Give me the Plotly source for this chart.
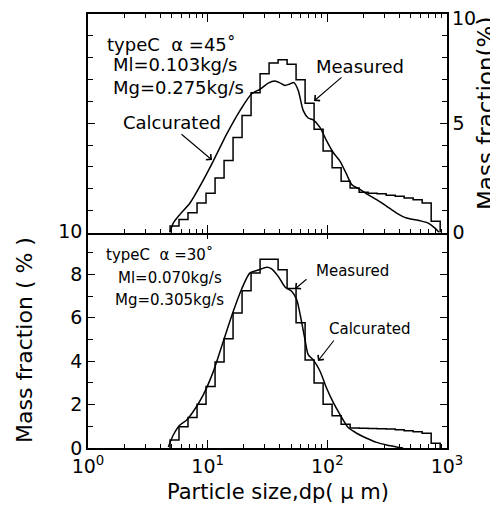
import plotly.graph_objects as go

# ---------------- data ----------------
# bin edges of the measured size distribution (micrometres)
edges_um = [4.85, 5.76, 6.85, 8.15, 9.69, 11.53, 13.71, 16.30, 19.38, 23.05, 27.41,
            32.60, 38.77, 46.1, 54.8, 65.2, 77.5, 92.2, 109.6, 130.4, 155.1, 184.4,
            219.3, 260.8, 310.1, 368.8, 438.6, 521.6, 620.2, 737.6, 877.1]

# top panel: typeC alpha=45
top_measured = [0.3, 0.6, 0.9, 1.35, 1.8, 2.5, 3.3, 4.35, 5.35, 6.4, 7.27, 7.76, 7.91,
                7.7, 6.99, 5.91, 4.73, 3.73, 2.96, 2.35, 2.04, 1.84, 1.80, 1.77, 1.71,
                1.66, 1.58, 1.50, 1.35, 0.51]
top_calc_x = [4.84, 5.16, 5.87, 7.12, 8.62, 11.14, 14.41, 18.62, 23.32, 27.35, 32.08,
              36.50, 40.18, 44.24, 48.71, 52.6, 57.14, 62.91, 69.26, 76.25, 86.76, 98.67,
              112.0, 127.4, 145.0, 159.6, 187.3, 213.0, 258.2, 312.9, 379.3, 459.7,
              593.8, 696.6, 792.3, 860.7]
top_calc_y = [0.0, 0.43, 0.83, 1.35, 2.12, 3.27, 4.5, 5.58, 6.35, 6.55, 6.84, 6.93, 6.85,
              6.73, 6.8, 6.86, 6.5, 5.58, 5.24, 5.15, 4.81, 4.19, 3.66, 3.27, 2.66, 2.2,
              1.97, 1.77, 1.5, 1.2, 0.89, 0.66, 0.54, 0.43, 0.2, 0.0]

# bottom panel: typeC alpha=30
bot_measured = [0.37, 0.98, 1.4, 2.02, 2.83, 3.96, 5.03, 6.22, 7.25, 8.07, 8.7, 8.7, 8.22,
                7.35, 5.77, 4.06, 2.99, 2.02, 1.49, 1.09, 0.92, 0.91, 0.9, 0.89, 0.87,
                0.84, 0.8, 0.75, 0.68, 0.22]
bot_calc_x = [4.69, 5.16, 5.87, 6.68, 7.58, 9.19, 11.14, 13.50, 16.37, 19.24, 22.57, 26.47,
              31.12, 34.25, 38.89, 44.24, 50.33, 55.4, 61.0, 65.0, 69.26, 76.25, 86.76,
              98.67, 112.0, 127.4, 149.5, 175.7, 213.0, 258.2, 312.9, 379.3, 430.0]
bot_calc_y = [0.05, 0.6, 1.06, 1.29, 1.68, 2.45, 3.52, 4.91, 6.3, 7.33, 8.07, 8.2, 8.33,
              8.26, 7.91, 7.42, 7.22, 6.84, 5.8, 5.0, 4.3, 4.06, 3.55, 2.75, 2.1, 1.55,
              0.94, 0.68, 0.45, 0.26, 0.14, 0.05, 0.0]

x_major = [1, 10, 100, 1000]
x_major_text = ["10<sup>0</sup>", "10<sup>1</sup>", "10<sup>2</sup>", "10<sup>3</sup>"]
x_minor = [m * d for d in (1, 10, 100) for m in range(2, 10)]
top_y_major = [0, 5, 10]
top_y_text = ["0", "5", ""]          # the top "10" is placed separately just below the corner
top_y_top_label = "10"
top_y_minor = [1, 2, 3, 4, 6, 7, 8, 9]
bot_y_major = [0, 2, 4, 6, 8, 10]
bot_y_minor = [1, 3, 5, 7, 9]

# ---------------- figure ----------------
FONT = "DejaVu Sans"
OFF = 8                      # default page margin around the plot div
W, H = 498 - OFF, 509 - OFF
ML, MR, MT, MB = 80, 51, 6, 61
PW, PH = W - ML - MR, H - MT - MB
LW = 1.5


def px(x):
    """page pixel x -> paper fraction"""
    return (x - OFF - ML) / PW


def py(y):
    """page pixel y -> paper fraction"""
    return (H - MB - (y - OFF)) / PH


def step_xy(edges, vals):
    xs = [edges[0]] + list(edges)
    ys = [0] + list(vals) + [0]
    return xs, ys


fig = go.Figure()
line = dict(color="black", width=1.5)

sx, sy = step_xy(edges_um, top_measured)
fig.add_trace(go.Scatter(x=sx, y=sy, mode="lines", line=dict(shape="hv", **line),
                         xaxis="x2", yaxis="y2", showlegend=False))
fig.add_trace(go.Scatter(x=top_calc_x, y=top_calc_y, mode="lines",
                         line=dict(shape="spline", smoothing=0.7, **line),
                         xaxis="x2", yaxis="y2", showlegend=False))
sx, sy = step_xy(edges_um, bot_measured)
fig.add_trace(go.Scatter(x=sx, y=sy, mode="lines", line=dict(shape="hv", **line),
                         xaxis="x", yaxis="y", showlegend=False))
fig.add_trace(go.Scatter(x=bot_calc_x, y=bot_calc_y, mode="lines",
                         line=dict(shape="spline", smoothing=0.7, **line),
                         xaxis="x", yaxis="y", showlegend=False))

common_x = dict(type="log", range=[0, 3], showline=True, linecolor="black", linewidth=LW,
                mirror="ticks", ticks="inside", ticklen=8, tickwidth=1.2, tickcolor="black",
                tickmode="array", tickvals=x_major, showgrid=False, zeroline=False,
                minor=dict(tickmode="array", tickvals=x_minor, ticks="inside", ticklen=4,
                           tickwidth=1.2, tickcolor="black", showgrid=False))
common_y = dict(range=[0, 10], showline=True, linecolor="black", linewidth=LW,
                mirror="ticks", ticks="inside", ticklen=7, tickwidth=1.2, tickcolor="black",
                tickmode="array", showgrid=False, zeroline=False,
                ticklabeloverflow="allow",
                tickfont=dict(family=FONT, size=19, color="black"))

split = 0.5
fig.update_layout(
    width=W, height=H,
    margin=dict(l=ML, r=MR, t=MT, b=MB, autoexpand=False),
    paper_bgcolor="white", plot_bgcolor="white",
    font=dict(family=FONT, color="black"),
    xaxis=dict(common_x, domain=[0, 1], anchor="y", ticktext=x_major_text,
               ticklabeloverflow="allow",
               tickfont=dict(family=FONT, size=19, color="black")),
    xaxis2=dict(common_x, domain=[0, 1], anchor="y2", showticklabels=False),
    yaxis=dict(common_y, domain=[0, split], anchor="x", tickvals=bot_y_major,
               minor=dict(tickmode="array", tickvals=bot_y_minor, ticks="inside",
                          ticklen=5, tickwidth=1.2, tickcolor="black", showgrid=False)),
    yaxis2=dict(common_y, domain=[split - LW / PH, 1], anchor="x2", side="right",
                tickvals=top_y_major, ticktext=top_y_text,
                minor=dict(tickmode="array", tickvals=top_y_minor, ticks="inside",
                           ticklen=5, tickwidth=1.2, tickcolor="black", showgrid=False)),
)

ann = []


def text(x, y, s, size, xanchor="left", angle=0):
    ann.append(dict(xref="paper", yref="paper", x=px(x), y=py(y), text=s, showarrow=False,
                    xanchor=xanchor, yanchor="middle", textangle=angle,
                    font=dict(family=FONT, size=size, color="black")))


def arrow(tipx, tipy, tailx, taily):
    ann.append(dict(xref="paper", yref="paper", x=px(tipx), y=py(tipy), text="",
                    showarrow=True, ax=tailx - tipx, ay=taily - tipy,
                    arrowhead=4, arrowsize=1.3, arrowwidth=1.1, arrowcolor="black"))


# top panel texts
text(105, 44, "typeC  α =45˚", 18)
text(111, 65, "Ml=0.103kg/s", 18)
text(111, 87, "Mg=0.275kg/s", 18)
text(121, 123, "Calcurated", 18)
text(314, 67, "Measured", 18)
arrow(212, 160, 180, 133)
arrow(314, 101, 343, 76)

# bottom panel texts
text(104, 255, "typeC  α =30˚", 15)
text(116, 278, "Ml=0.070kg/s", 15)
text(113, 300, "Mg=0.305kg/s", 15)
text(314, 271, "Measured", 15)
text(327, 329, "Calcurated", 15)
arrow(295, 289, 308, 278)
arrow(318, 361, 335, 339)

# right-axis top label of the upper panel
text(450, 18, top_y_top_label, 19)

# axis titles
text(278, 492, "Particle size,dp( μ m)", 21, xanchor="center")
text(24, 340, "Mass fraction ( % )", 22, xanchor="center", angle=-90)
text(486, 113, "Mass fraction(%)", 23, xanchor="center", angle=-90)

fig.update_layout(annotations=ann)
fig.write_html("out.html")
